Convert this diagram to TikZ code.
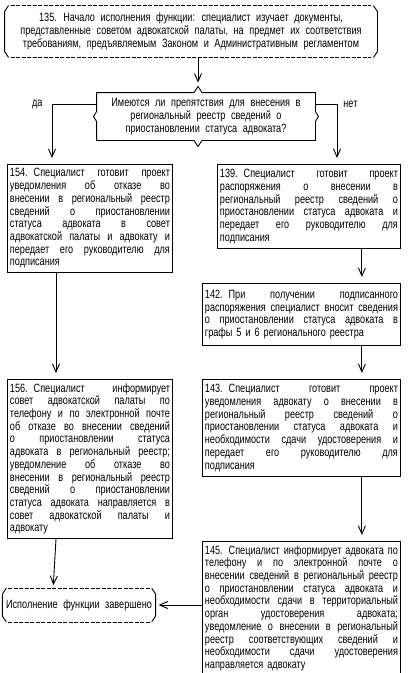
\documentclass[tikz,border=0pt]{standalone}
\usepackage{fontspec}
\setmainfont{Liberation Sans}[FakeStretch=0.76,WordSpace=2.2]
\usetikzlibrary{arrows.meta,positioning}

\newlength{\jwidth}
% one justified line of a box text
\newcommand{\jline}[1]{{\spaceskip=3pt plus 1fil\makebox[\jwidth][s]{#1}}\\}
% frame of a start/finish block: /----\ |  | \----/
\newcommand{\termframe}[1]{%
  \draw[dash line] ([xshift=6pt]#1.north west) -- ([xshift=-6pt]#1.north east);
  \draw[dash line] ([xshift=6pt]#1.south west) -- ([xshift=-6pt]#1.south east);
  \draw ([xshift=4pt]#1.north west) -- ([yshift=-6pt]#1.north west) -- ([yshift=6pt]#1.south west) -- ([xshift=4pt]#1.south west);
  \draw ([xshift=-4pt]#1.north east) -- ([yshift=-6pt]#1.north east) -- ([yshift=6pt]#1.south east) -- ([xshift=-4pt]#1.south east);}

\begin{document}
\begin{tikzpicture}[x=1pt,y=-1pt,line width=0.9pt,
    every node/.style={font=\fontsize{12}{12.7}\selectfont},
    stepbox/.style={draw,anchor=north west,inner xsep=2.5pt,inner ysep=4pt,align=left,
      text width=#1,execute at begin node={\setlength{\jwidth}{#1}}},
    vtip/.style={-{Straight Barb[length=8pt,width=7pt]}},
    dash line/.style={dash pattern=on 4pt off 1.5pt}]
  %\draw[help lines,step=50] (0,0) grid (408,673);
  \useasboundingbox (0,0) rectangle (408,673);

  \node[align=center,minimum width=372pt,minimum height=51pt] (start) at (191,31.5)
    {135. Начало исполнения функции: специалист изучает документы,\\
     представленные советом адвокатской палаты, на предмет их соответствия\\
     требованиям, предъявляемым Законом и Административным регламентом};
  \termframe{start}

  \node[align=center,minimum width=218pt,minimum height=47pt] (ask) at (206,116.5)
    {Имеются ли препятствия для внесения в\\
     региональный реестр сведений о\\
     приостановлении статуса адвоката?};
  \draw (ask.north west) -- ([xshift=-12pt]ask.north) -- ([xshift=-8pt,yshift=6pt]ask.north)
    -- ([xshift=-4pt]ask.north) -- (ask.north east) -- ([yshift=5pt]ask.east)
    -- ([xshift=3pt]ask.east) -- ([yshift=-5pt]ask.east) -- (ask.south east)
    -- ([xshift=-4pt]ask.south) -- ([xshift=-8pt,yshift=-6pt]ask.south) -- ([xshift=-12pt]ask.south)
    -- (ask.south west) -- ([yshift=-5pt]ask.west) -- ([xshift=-3pt]ask.west)
    -- ([yshift=5pt]ask.west) -- cycle;

  \node[stepbox=160pt,minimum height=108pt] (b154) at (7,164)
    {\jline{154. Специалист готовит проект}
     \jline{уведомления об отказе во}
     \jline{внесении в региональный реестр}
     \jline{сведений о приостановлении}
     \jline{статуса адвоката в совет}
     \jline{адвокатской палаты и адвокату и}
     \jline{передает его руководителю для}
     подписания};

  \node[stepbox=178pt,minimum height=84pt] (b139) at (217,164)
    {\jline{139. Специалист готовит проект}
     \jline{распоряжения о внесении в}
     \jline{региональный реестр сведений о}
     \jline{приостановлении статуса адвоката и}
     \jline{передает его руководителю для}
     подписания};

  \node[stepbox=193pt,minimum height=62pt] (b142) at (202,283)
    {\jline{142. При получении подписанного}
     \jline{распоряжения специалист вносит сведения}
     \jline{о приостановлении статуса адвоката в}
     графы 5 и 6 регионального реестра};

  \node[stepbox=193pt,minimum height=97pt] (b143) at (202,379)
    {\jline{143. Специалист готовит проект}
     \jline{уведомления адвокату о внесении в}
     \jline{региональный реестр сведений о}
     \jline{приостановлении статуса адвоката и}
     \jline{необходимости сдачи удостоверения и}
     \jline{передает его руководителю для}
     подписания};

  \node[stepbox=160pt,minimum height=157pt] (b156) at (7,379)
    {\jline{156. Специалист информирует}
     \jline{совет адвокатской палаты по}
     \jline{телефону и по электронной почте}
     \jline{об отказе во внесении сведений}
     \jline{о приостановлении статуса}
     \jline{адвоката в региональный реестр;}
     \jline{уведомление об отказе во}
     \jline{внесении в региональный реестр}
     \jline{сведений о приостановлении}
     \jline{статуса адвоката направляется в}
     \jline{совет адвокатской палаты и}
     адвокату};

  \node[stepbox=193pt,minimum height=130pt] (b145) at (202,541)
    {\jline{145. Специалист информирует адвоката по}
     \jline{телефону и по электронной почте о}
     \jline{внесении сведений в региональный реестр}
     \jline{о приостановлении статуса адвоката и}
     \jline{необходимости сдачи в территориальный}
     \jline{орган удостоверения адвоката;}
     \jline{уведомление о внесении в региональный}
     \jline{реестр соответствующих сведений и}
     \jline{необходимости сдачи удостоверения}
     направляется адвокату};

  \node[minimum width=148pt,minimum height=33pt] (finish) at (79,605) {Исполнение функции завершено};
  \termframe{finish}

  \draw[vtip] ([xshift=7pt]start.south) -- ([xshift=-8pt,yshift=10pt]ask.north);
  \draw[vtip] ([yshift=12.5pt]ask.west) -| ([xshift=45pt,yshift=6pt]b154.north west)
    node[pos=.5,left=8pt,inner sep=1pt] {да};
  \draw[vtip] ([yshift=12.5pt]ask.east) -| ([xshift=120pt,yshift=6pt]b139.north west)
    node[pos=.5,right=5pt,inner sep=1pt] {нет};

  \draw[vtip] ([xshift=49pt]b154.south west) -- ([xshift=49pt,yshift=6pt]b156.north west);
  \draw[vtip] ([xshift=-39pt]b139.south east) -- ([xshift=-39pt,yshift=6pt]b142.north east);
  \draw[vtip] ([xshift=-39pt]b142.south east) -- ([xshift=-39pt,yshift=6pt]b143.north east);
  \draw[vtip] ([xshift=-39pt]b143.south east) -- ([xshift=-39pt,yshift=6pt]b145.north east);

  \draw[vtip] ([xshift=49pt]b156.south west) -- ([xshift=51pt,yshift=3pt]finish.north west);
  \draw[vtip] (finish.east -| b145.west) -- ([xshift=3pt]finish.east);
\end{tikzpicture}
\end{document}
